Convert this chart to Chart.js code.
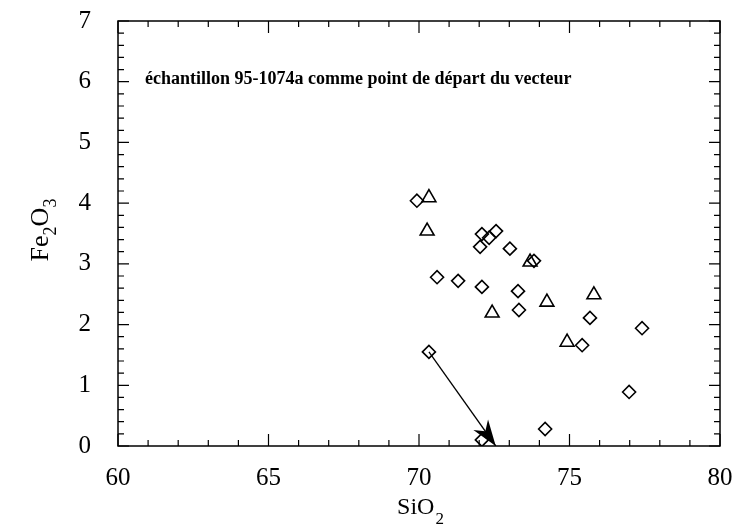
<!DOCTYPE html>
<html>
<head>
<meta charset="utf-8">
<script src="https://cdn.jsdelivr.net/npm/chart.js@4.4.1/dist/chart.umd.min.js"></script>
<style>
  html, body { margin: 0; padding: 0; background: #ffffff; }
  #wrap { width: 740px; height: 528px; position: relative; }
</style>
</head>
<body>
<div id="wrap"><canvas id="plot" width="740" height="528"></canvas></div>
<script>
// diamonds (samples)
const diamondSiO2 = [69.93, 72.09, 72.33, 72.56, 72.03, 73.02, 73.82, 70.60, 71.30, 72.09,
                     73.29, 73.32, 75.68, 75.42, 77.41, 76.98, 70.33, 74.19, 72.09];
const diamondFe2O3 = [4.04, 3.49, 3.43, 3.54, 3.28, 3.25, 3.05, 2.78, 2.72, 2.62,
                      2.55, 2.24, 2.11, 1.66, 1.94, 0.89, 1.55, 0.28, 0.10];
// triangles
const triangleSiO2 = [70.33, 70.27, 73.69, 72.43, 74.25, 75.81, 74.92];
const triangleFe2O3 = [4.09, 3.54, 3.03, 2.19, 2.37, 2.49, 1.71];
// vector, starting from sample 95-1074a
const vectorSiO2 = [70.33, 72.55];
const vectorFe2O3 = [1.55, 0.0];

const xTickLabels = [60, 65, 70, 75, 80];
const yTickLabels = [0, 1, 2, 3, 4, 5, 6, 7];
const noteText = 'échantillon 95-1074a comme point de départ du vecteur';

const SERIF = '"Liberation Serif", "DejaVu Serif", serif';

function toPoints(xs, ys) {
    return xs.map((x, i) => ({ x: x, y: ys[i] }));
}

// frame, inward ticks, arrowhead and labels with subscripts
const framePlugin = {
    id: 'frame',
    afterDraw(chart) {
        const ctx = chart.ctx;
        const area = chart.chartArea;
        const xs = chart.scales.x;
        const ys = chart.scales.y;
        ctx.save();
        ctx.strokeStyle = '#000';
        ctx.lineWidth = 1.5;
        ctx.strokeRect(area.left, area.top, area.right - area.left, area.bottom - area.top);

        ctx.lineWidth = 1.2;
        ctx.beginPath();
        for (let v = xTickLabels[0]; v <= xTickLabels[xTickLabels.length - 1]; v++) {
            const px = xs.getPixelForValue(v);
            const len = v % 5 === 0 ? 12 : 6;
            ctx.moveTo(px, area.bottom); ctx.lineTo(px, area.bottom - len);
            ctx.moveTo(px, area.top); ctx.lineTo(px, area.top + len);
        }
        for (let i = 0; i <= 35; i++) {
            const v = i / 5;
            const py = ys.getPixelForValue(v);
            const len = i % 5 === 0 ? 11 : 6;
            ctx.moveTo(area.left, py); ctx.lineTo(area.left + len, py);
            ctx.moveTo(area.right, py); ctx.lineTo(area.right - len, py);
        }
        ctx.stroke();

        // arrowhead at the end of the vector
        const meta = chart.getDatasetMeta(2);
        const p0 = meta.data[0], p1 = meta.data[1];
        const ang = Math.atan2(p1.y - p0.y, p1.x - p0.x);
        ctx.translate(p1.x, p1.y);
        ctx.rotate(ang);
        ctx.fillStyle = '#000';
        ctx.beginPath();
        ctx.moveTo(0, 0);
        ctx.lineTo(-26, -9);
        ctx.lineTo(-18, 0);
        ctx.lineTo(-26, 9);
        ctx.closePath();
        ctx.fill();
        ctx.setTransform(1, 0, 0, 1, 0, 0);

        // note text
        ctx.fillStyle = '#000';
        ctx.font = 'bold 18px ' + SERIF;
        ctx.textBaseline = 'alphabetic';
        ctx.textAlign = 'left';
        ctx.fillText(noteText, 145, 84);

        // x title SiO2
        ctx.font = '24px ' + SERIF;
        const w1 = ctx.measureText('SiO').width;
        ctx.font = '17px ' + SERIF;
        const w2 = ctx.measureText('2').width;
        let sx = 420 - (w1 + w2) / 2;
        ctx.font = '24px ' + SERIF;
        ctx.fillText('SiO', sx, 514);
        ctx.font = '17px ' + SERIF;
        ctx.fillText('2', sx + w1 + 1, 524);

        // y title Fe2O3 (rotated)
        ctx.translate(48, 230);
        ctx.rotate(-Math.PI / 2);
        const parts = [['Fe', 26, 0], ['2', 18, 8], ['O', 26, 0], ['3', 18, 8]];
        let total = 0;
        parts.forEach(p => { ctx.font = p[1] + 'px ' + SERIF; total += ctx.measureText(p[0]).width; });
        let cx = -total / 2;
        parts.forEach(p => {
            ctx.font = p[1] + 'px ' + SERIF;
            ctx.fillText(p[0], cx, p[2]);
            cx += ctx.measureText(p[0]).width;
        });
        ctx.restore();
    }
};

new Chart(document.getElementById('plot'), {
    type: 'scatter',
    data: {
        datasets: [{
            label: 'diamonds',
            data: toPoints(diamondSiO2, diamondFe2O3),
            pointStyle: 'rectRot',
            pointRadius: 6.5,
            borderColor: '#000',
            backgroundColor: 'rgba(0,0,0,0)',
            borderWidth: 1.6
        }, {
            label: 'triangles',
            data: toPoints(triangleSiO2, triangleFe2O3),
            pointStyle: 'triangle',
            pointRadius: 8,
            borderColor: '#000',
            backgroundColor: 'rgba(0,0,0,0)',
            borderWidth: 1.6
        }, {
            label: 'vecteur',
            type: 'line',
            data: toPoints(vectorSiO2, vectorFe2O3),
            showLine: true,
            pointRadius: 0,
            borderColor: '#000',
            borderWidth: 1.3,
            fill: false
        }]
    },
    options: {
        responsive: false,
        animation: false,
        layout: { padding: { left: 0, top: 21, right: 20, bottom: 0 } },
        plugins: {
            legend: { display: false },
            tooltip: { enabled: false }
        },
        scales: {
            x: {
                type: 'linear',
                min: 60,
                max: 80,
                afterFit: (scale) => {
                    scale.height = 82;
                    scale.paddingLeft = 0;
                    scale.paddingRight = 0;
                },
                afterBuildTicks: (scale) => { scale.ticks = xTickLabels.map(v => ({ value: v })); },
                grid: { display: false, drawTicks: false },
                border: { display: false },
                ticks: {
                    color: '#000',
                    padding: 17,
                    maxRotation: 0,
                    font: { family: SERIF, size: 25 }
                }
            },
            y: {
                type: 'linear',
                min: 0,
                max: 7,
                afterFit: (scale) => {
                    scale.width = 118;
                    scale.paddingTop = 0;
                    scale.paddingBottom = 0;
                },
                afterBuildTicks: (scale) => { scale.ticks = yTickLabels.map(v => ({ value: v })); },
                grid: { display: false, drawTicks: false },
                border: { display: false },
                ticks: {
                    color: '#000',
                    padding: 27,
                    font: { family: SERIF, size: 25 }
                }
            }
        }
    },
    plugins: [framePlugin]
});
</script>
</body>
</html>
